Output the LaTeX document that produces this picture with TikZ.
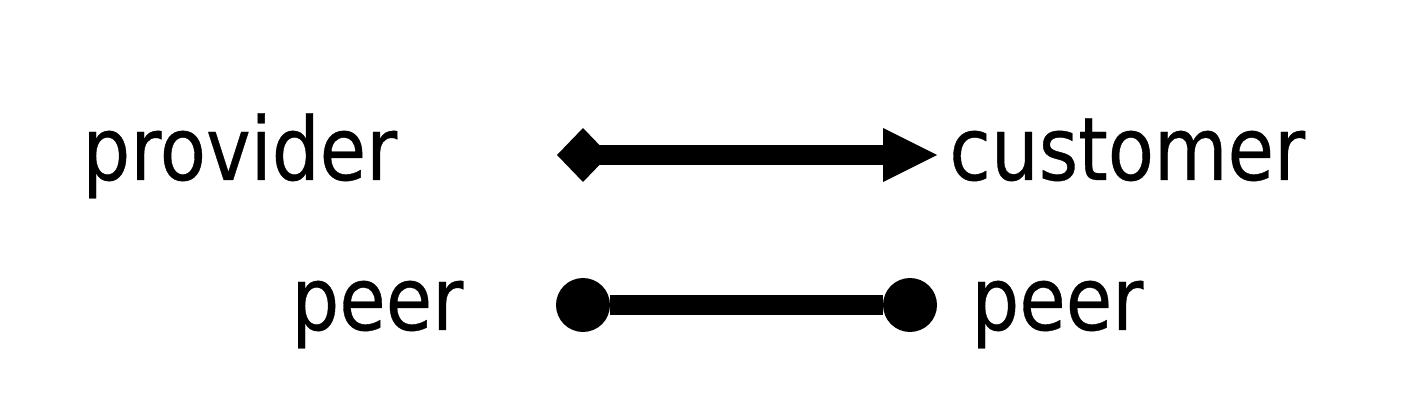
\documentclass[tikz,border=0pt]{standalone}
\usepackage{fontspec}
\setmainfont{DejaVu Sans}[FakeStretch=0.86,FakeBold=0.4]
\usetikzlibrary{arrows.meta}
\begin{document}
\begin{tikzpicture}[x=0.02cm,y=-0.02cm,
    lbl/.style={inner sep=0pt,anchor=base west,font=\fontsize{50}{60}\selectfont},
    rel/.style={line width=0.39cm}]
    \useasboundingbox (0,0) rectangle (1420,411);
    % labels
    \node[lbl] (prov) at (82,180) {provider};
    \node[lbl] (cust) at (949,180) {customer};
    \node[lbl] (peerA) at (291,330) {peer};
    \node[lbl] (peerB) at (971,330) {peer};
    % line ends
    \coordinate (pr) at (557,155);
    \coordinate (cu) at (937,155);
    \coordinate (pa) at (556,305);
    \coordinate (pb) at (937,305);
    \draw[rel,{Diamond[length=1.04cm,width=1.08cm,line width=0pt]}-{Triangle[length=1.08cm,width=1.08cm,line width=0pt]}] (pr) -- (cu);
    \draw[rel,{Circle[length=1.08cm,line width=0pt]}-{Circle[length=1.08cm,line width=0pt]}] (pa) -- (pb);
\end{tikzpicture}
\end{document}
